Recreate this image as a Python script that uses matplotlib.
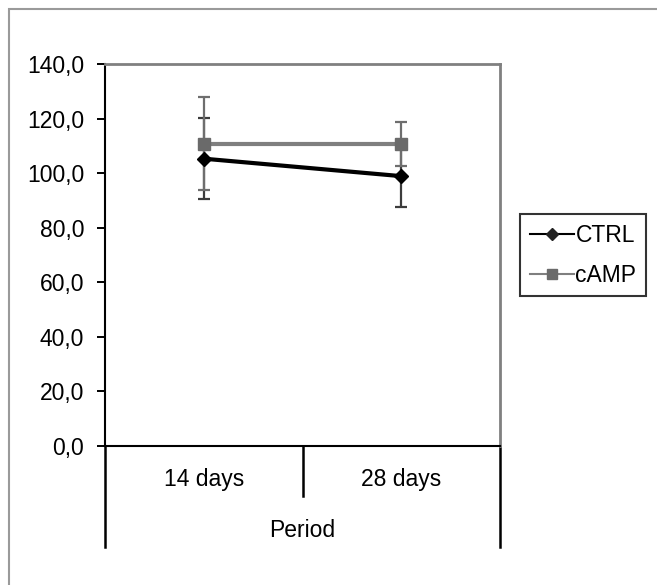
import numpy as np
import matplotlib.pyplot as plt
from matplotlib.patches import Rectangle
from matplotlib.lines import Line2D
import matplotlib.transforms as mtransforms

plt.rcParams['font.family'] = ['Liberation Sans', 'DejaVu Sans']

# data
periods = ['14 days', '28 days']
ctrl = [105.3, 98.9]
ctrl_err = [14.8, 11.2]
camp = [110.8, 110.8]
camp_err = [17.0, 8.0]
yticks = [0, 20, 40, 60, 80, 100, 120, 140]

W, H = 657, 585
fig = plt.figure(figsize=(W / 100, H / 100), dpi=100)

# outer chart border (Excel chart area)
fig.patches.append(Rectangle((9 / W, -0.1), 1.2, 1.1 - 9 / H, transform=fig.transFigure,
                             fill=False, edgecolor='#9a9a9a', lw=1.5, zorder=0))

ax = fig.add_axes([105 / W, (H - 446) / H, 395 / W, 382 / H])
x = np.arange(len(periods)) + 0.5

ax.errorbar(x, ctrl, yerr=ctrl_err, fmt='none', ecolor='#3c3c3c', elinewidth=1.6,
            capsize=4.5, capthick=1.6, zorder=2)
ax.errorbar(x, camp, yerr=camp_err, fmt='none', ecolor='#6e6e6e', elinewidth=1.6,
            capsize=4.5, capthick=1.6, zorder=2)
ax.plot(x, camp, color='#7f7f7f', lw=3, marker='s', ms=9, mfc='#6a6a6a', mec='#6a6a6a',
        zorder=3)
ax.plot(x, ctrl, color='black', lw=3, marker='D', ms=7, mfc='black', mec='black', zorder=4)

ax.set_xlim(0, 2)
ax.set_ylim(0, 140)
ax.set_yticks(yticks)
ax.set_yticklabels([f'{v:.1f}'.replace('.', ',') for v in yticks], fontsize=16.5)
ax.tick_params(axis='y', direction='out', length=6, width=1.4, pad=9)
ax.set_xticks([])

for s in ['top', 'right']:
    ax.spines[s].set_color('#808080')
    ax.spines[s].set_linewidth(2)
for s in ['left', 'bottom']:
    ax.spines[s].set_color('black')
    ax.spines[s].set_linewidth(1.5)

# category separators below the axis
tr = mtransforms.blended_transform_factory(ax.transData, ax.transAxes)
for xv, low in [(0, -0.264), (1, -0.131), (2, -0.264)]:
    ax.plot([xv, xv], [0, low], color='black', lw=1.8, transform=tr, clip_on=False)
for xv, lab in zip(x, periods):
    ax.text(xv, -0.088, lab, transform=tr, ha='center', va='center', fontsize=16.5)
ax.text(1, -0.221, 'Period', transform=tr, ha='center', va='center', fontsize=16.5)

# legend
handles = [Line2D([], [], color='black', lw=1.5, marker='D', ms=6, mfc='#222', mec='#222'),
           Line2D([], [], color='#7f7f7f', lw=1.5, marker='s', ms=7, mfc='#6a6a6a', mec='#6a6a6a')]
leg = fig.legend(handles, ['CTRL', 'cAMP'], loc='upper left',
                 bbox_to_anchor=(520 / W, 1 - 214 / H), bbox_transform=fig.transFigure,
                 borderaxespad=0, fontsize=16.5, frameon=True, fancybox=False,
                 edgecolor='black', handlelength=1.95, handletextpad=0.05,
                 borderpad=0.42, labelspacing=0.75)
leg.get_frame().set_linewidth(1.5)

fig.savefig('out.png', dpi=100)
